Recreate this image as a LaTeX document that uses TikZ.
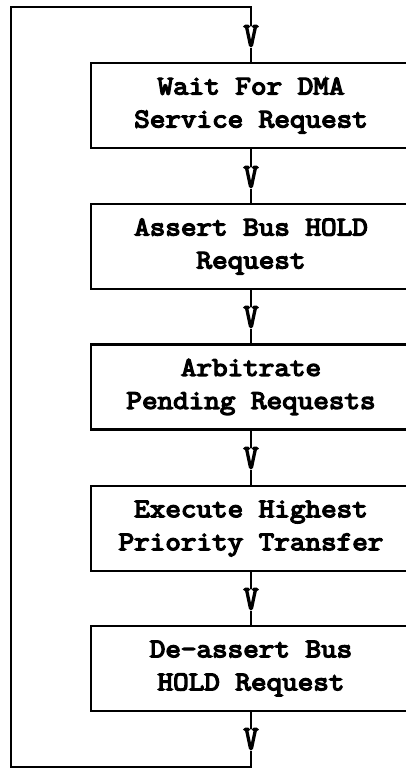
\documentclass[tikz,border=0pt]{standalone}
\usepackage{fontspec}
\newfontfamily\typer[FakeBold=5,FakeStretch=1.12]{Latin Modern Mono}
\newfontfamily\vtyper[FakeBold=5]{Latin Modern Mono}
\begin{document}
\begin{tikzpicture}[x=1pt,y=-1pt,
  line width=2.4pt,
  stepbox/.style={draw, line width=2.4pt, minimum width=320pt, minimum height=85pt,
    align=center, inner sep=0pt, font=\typer\fontsize{27}{33}\selectfont},
  vmark/.style={inner sep=0pt, outer sep=0pt, font=\vtyper\fontsize{27}{27}\selectfont},
  flow/.style={line width=2.4pt}]
\useasboundingbox (0,0) rectangle (406,769);
\clip (0,0) rectangle (406,769);

% process steps
\node[stepbox] (b1) at (251,105.5) {Wait For DMA\\Service Request};
\node[stepbox] (b2) at (251,246.5) {Assert Bus HOLD\\Request};
\node[stepbox] (b3) at (251,387) {Arbitrate\\Pending Requests};
\node[stepbox] (b4) at (251,528.5) {Execute Highest\\Priority Transfer};
\node[stepbox] (b5) at (251,668.5) {De-assert Bus\\HOLD Request};

% typed arrowheads
\node[vmark] (v1) at (251,36)  {\scalebox{1.05}[1.25]{V}};
\node[vmark] (v2) at (251,177) {\scalebox{1.05}[1.25]{V}};
\node[vmark] (v3) at (251,317) {\scalebox{1.05}[1.25]{V}};
\node[vmark] (v4) at (251,458) {\scalebox{1.05}[1.25]{V}};
\node[vmark] (v5) at (251,599) {\scalebox{1.05}[1.25]{V}};
\node[vmark] (v6) at (251,739) {\scalebox{1.05}[1.25]{V}};

% loop-back corners
\coordinate (lb)  at (251,767);
\coordinate (lbl) at (11,767);
\coordinate (ltl) at (11,7);
\coordinate (lt)  at (251,7);

% connectors
\draw[flow] (v1.south) ++(0,2) -- (b1.north);
\draw[flow] (b1.south) -- (v2.north);
\draw[flow] (v2.south) ++(0,2) -- (b2.north);
\draw[flow] (b2.south) -- (v3.north);
\draw[flow] (v3.south) ++(0,2) -- (b3.north);
\draw[flow] (b3.south) -- (v4.north);
\draw[flow] (v4.south) ++(0,2) -- (b4.north);
\draw[flow] (b4.south) -- (v5.north);
\draw[flow] (v5.south) ++(0,2) -- (b5.north);
\draw[flow] (b5.south) -- (v6.north);
\draw[flow] (v6.south) ++(0,2) -- (lb) -- (lbl) -- (ltl) -- (lt) -- (v1.north);
\end{tikzpicture}
\end{document}
